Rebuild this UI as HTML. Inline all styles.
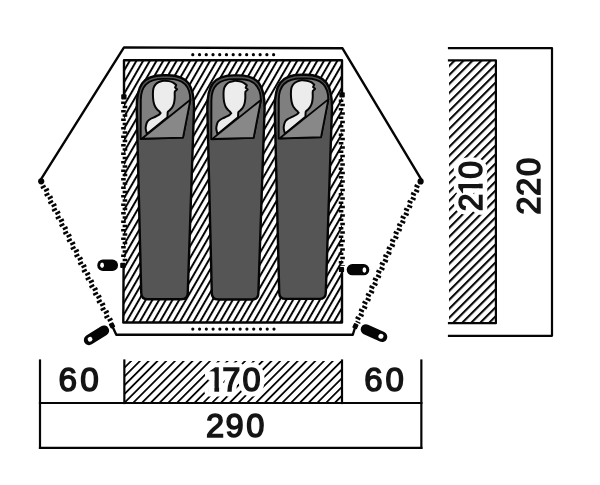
<!DOCTYPE html>
<html><head><meta charset="utf-8"><style>
html,body{margin:0;padding:0;background:#fff;width:600px;height:485px;overflow:hidden}
svg{display:block;will-change:transform}
text{font-family:"Liberation Sans",sans-serif;fill:#141414;stroke:#141414;stroke-width:1.5px;font-size:34px}
text.h{fill:#fff;stroke:#fff;stroke-width:10.8px;stroke-linejoin:round}
</style></head><body>
<svg width="600" height="485" viewBox="0 0 600 485">
<defs>
<pattern id="h60" patternUnits="userSpaceOnUse" x="2.55" y="0" width="5.8" height="20" patternTransform="rotate(30)">
<rect x="0" y="0" width="2.0" height="20" fill="#050505"/>
</pattern>
<pattern id="h45" patternUnits="userSpaceOnUse" x="0.7" y="0" width="6.36" height="20" patternTransform="rotate(45)">
<rect x="0" y="0" width="2.1" height="20" fill="#050505"/>
</pattern>
<pattern id="h45b" patternUnits="userSpaceOnUse" x="-0.1" y="0" width="6.2" height="20" patternTransform="rotate(45)">
<rect x="0" y="0" width="1.8" height="20" fill="#050505"/>
</pattern>
</defs>
<rect width="600" height="485" fill="#fff"/>
<rect x="124" y="60.3" width="218" height="262.2" fill="url(#h60)"/>
<g fill="none" stroke="#050505" stroke-width="2.4" stroke-linejoin="round" stroke-linecap="round">
<polyline points="40.6,179.8 124,47.4 342.5,48.3 421.8,180.3"/>
<polyline points="112,325.5 116.3,334.75 352.8,334.75 355.5,326"/>
<polyline points="124,97 124,60.3 342,60.3 342,95"/>
<polyline points="123.6,265 123.3,322.5 342,322.5 342,269.5"/>
</g>
<g fill="none">
<line x1="123.45" y1="101.60" x2="123.45" y2="262.00" stroke="#050505" stroke-width="4.60" stroke-dasharray="2.50 6.00" stroke-dashoffset="0.00"/>
<line x1="124.95" y1="101.60" x2="124.95" y2="262.00" stroke="#050505" stroke-width="4.60" stroke-dasharray="2.50 6.00" stroke-dashoffset="-4.25"/>
<line x1="341.05" y1="99.60" x2="341.05" y2="266.00" stroke="#050505" stroke-width="4.60" stroke-dasharray="2.50 6.00" stroke-dashoffset="0.00"/>
<line x1="342.55" y1="99.60" x2="342.55" y2="266.00" stroke="#050505" stroke-width="4.60" stroke-dasharray="2.50 6.00" stroke-dashoffset="-4.25"/>
<line x1="42.68" y1="185.75" x2="109.58" y2="322.35" stroke="#050505" stroke-width="5.20" stroke-dasharray="2.50 6.00" stroke-dashoffset="0.00"/>
<line x1="44.12" y1="185.05" x2="111.02" y2="321.65" stroke="#050505" stroke-width="5.20" stroke-dasharray="2.50 6.00" stroke-dashoffset="-4.25"/>
<line x1="417.47" y1="185.17" x2="356.27" y2="322.17" stroke="#050505" stroke-width="5.20" stroke-dasharray="2.50 6.00" stroke-dashoffset="0.00"/>
<line x1="418.93" y1="185.83" x2="357.73" y2="322.83" stroke="#050505" stroke-width="5.20" stroke-dasharray="2.50 6.00" stroke-dashoffset="-4.25"/>
</g>
<g fill="#050505">
<circle cx="41.2" cy="181.3" r="3.1"/>
<circle cx="420.6" cy="181.4" r="3.1"/>
<rect x="121.2" y="94.2" width="5.4" height="5.2" rx="0.9"/>
<rect x="339.3" y="92.2" width="5.5" height="5.2" rx="0.9"/>
<rect x="120.2" y="262.8" width="5.4" height="5.1" rx="0.9"/>
<rect x="338.9" y="267.1" width="5.2" height="5" rx="0.9"/>
<rect x="109.5" y="322.8" width="5" height="5.2" rx="0.8" transform="rotate(-26 112 325.4)"/>
<rect x="353" y="323.5" width="5" height="5.2" rx="0.8" transform="rotate(24 355.5 326)"/>
<circle cx="192.80" cy="54.70" r="1.60"/><circle cx="199.53" cy="54.70" r="1.60"/><circle cx="206.27" cy="54.70" r="1.60"/><circle cx="213.00" cy="54.70" r="1.60"/><circle cx="219.73" cy="54.70" r="1.60"/><circle cx="226.47" cy="54.70" r="1.60"/><circle cx="233.20" cy="54.70" r="1.60"/><circle cx="239.93" cy="54.70" r="1.60"/><circle cx="246.67" cy="54.70" r="1.60"/><circle cx="253.40" cy="54.70" r="1.60"/><circle cx="260.13" cy="54.70" r="1.60"/><circle cx="266.87" cy="54.70" r="1.60"/><circle cx="273.60" cy="54.70" r="1.60"/><circle cx="192.80" cy="329.10" r="1.60"/><circle cx="199.57" cy="329.10" r="1.60"/><circle cx="206.33" cy="329.10" r="1.60"/><circle cx="213.10" cy="329.10" r="1.60"/><circle cx="219.87" cy="329.10" r="1.60"/><circle cx="226.63" cy="329.10" r="1.60"/><circle cx="233.40" cy="329.10" r="1.60"/><circle cx="240.17" cy="329.10" r="1.60"/><circle cx="246.93" cy="329.10" r="1.60"/><circle cx="253.70" cy="329.10" r="1.60"/><circle cx="260.47" cy="329.10" r="1.60"/><circle cx="267.23" cy="329.10" r="1.60"/><circle cx="274.00" cy="329.10" r="1.60"/></g>
<rect x="97.3" y="259.5" width="20.7" height="11.5" rx="5.6" fill="#050505"/><ellipse cx="102.1" cy="265.3" rx="1.9" ry="2.7" fill="#fff"/>
<rect x="346.7" y="264" width="22.6" height="11.3" rx="5.6" fill="#050505"/><ellipse cx="364.4" cy="270" rx="1.9" ry="2.7" fill="#fff"/>
<g transform="translate(96.50,335.30) rotate(-32.00)"><rect x="-14.00" y="-5.20" width="28.00" height="10.40" rx="5.20" fill="#050505"/><circle cx="-7.60" cy="0" r="2.40" fill="#fff"/></g>
<g transform="translate(374.00,333.10) rotate(24.30)"><rect x="-14.10" y="-5.25" width="28.20" height="10.50" rx="5.25" fill="#050505"/><circle cx="7.60" cy="0" r="2.50" fill="#fff"/></g>
<g transform="translate(0.0,0.0)">
<path d="M141.2,292.8 L136.7,108 C136.7,86 142.5,75.2 163,75.2 L167.7,75.2 C188.2,75.2 194,86 194,108 L187.8,292.8 Q187.8,299.3 181.3,299.3 L147.7,299.3 Q141.2,299.3 141.2,292.8 Z" fill="#555" stroke="#050505" stroke-width="2.4"/>
<path d="M140.7,139 L140.8,100 C140.8,86 148.6,78.9 163,78.9 L168.6,78.9 C182.6,78.9 190.3,86 190.3,100 L183,137.6 Z" fill="#7f7f7f" stroke="#050505" stroke-width="1.9" stroke-linejoin="round"/>
<path d="M146.91,134.09 C146.71,133.20 145.83,130.27 145.70,128.76 C145.57,127.25 145.86,126.18 146.12,125.03 C146.37,123.88 146.64,122.79 147.23,121.87 C147.82,120.95 148.52,120.30 149.66,119.53 C150.79,118.77 152.59,118.02 154.04,117.29 C155.49,116.55 157.28,115.82 158.37,115.13 C159.45,114.44 160.22,113.51 160.54,113.15 C160.86,112.78 160.46,113.20 160.27,112.94 C160.08,112.67 159.88,112.06 159.40,111.53 C158.92,110.99 158.12,110.56 157.40,109.73 C156.68,108.90 155.71,107.82 155.08,106.56 C154.45,105.30 153.97,103.76 153.62,102.17 C153.27,100.58 153.10,98.83 153.00,97.05 C152.90,95.26 152.88,93.06 153.00,91.44 C153.13,89.82 153.27,88.54 153.76,87.31 C154.24,86.08 155.07,84.94 155.92,84.05 C156.78,83.16 157.62,82.53 158.88,81.97 C160.13,81.41 161.75,80.85 163.43,80.70 C165.11,80.56 167.33,80.80 168.95,81.11 C170.57,81.43 171.94,81.93 173.16,82.59 C174.38,83.24 175.74,84.63 176.26,85.04 L175.08,87.44 L177.10,89.22 L174.88,91.43 C174.85,91.70 174.73,91.93 174.70,93.03 C174.67,94.14 174.82,96.36 174.70,98.06 C174.58,99.75 174.38,101.68 173.97,103.20 C173.57,104.73 172.98,106.06 172.28,107.21 C171.58,108.37 170.51,109.39 169.78,110.15 C169.04,110.92 168.24,111.25 167.88,111.82 C167.52,112.38 167.67,112.65 167.60,113.55 C167.53,114.44 167.48,116.57 167.46,117.17 Z" fill="#ececec" stroke="#050505" stroke-width="2.0" stroke-linejoin="round"/>
<path d="M141.7,138.7 L190.3,99.8 L183,137.6 Z" fill="#888" stroke="#050505" stroke-width="1.8" stroke-linejoin="round"/>
</g>
<g transform="translate(70.6,0.2)">
<path d="M141.2,292.8 L136.7,108 C136.7,86 142.5,75.2 163,75.2 L167.7,75.2 C188.2,75.2 194,86 194,108 L187.8,292.8 Q187.8,299.3 181.3,299.3 L147.7,299.3 Q141.2,299.3 141.2,292.8 Z" fill="#555" stroke="#050505" stroke-width="2.4"/>
<path d="M140.7,139 L140.8,100 C140.8,86 148.6,78.9 163,78.9 L168.6,78.9 C182.6,78.9 190.3,86 190.3,100 L183,137.6 Z" fill="#7f7f7f" stroke="#050505" stroke-width="1.9" stroke-linejoin="round"/>
<path d="M146.91,134.09 C146.71,133.20 145.83,130.27 145.70,128.76 C145.57,127.25 145.86,126.18 146.12,125.03 C146.37,123.88 146.64,122.79 147.23,121.87 C147.82,120.95 148.52,120.30 149.66,119.53 C150.79,118.77 152.59,118.02 154.04,117.29 C155.49,116.55 157.28,115.82 158.37,115.13 C159.45,114.44 160.22,113.51 160.54,113.15 C160.86,112.78 160.46,113.20 160.27,112.94 C160.08,112.67 159.88,112.06 159.40,111.53 C158.92,110.99 158.12,110.56 157.40,109.73 C156.68,108.90 155.71,107.82 155.08,106.56 C154.45,105.30 153.97,103.76 153.62,102.17 C153.27,100.58 153.10,98.83 153.00,97.05 C152.90,95.26 152.88,93.06 153.00,91.44 C153.13,89.82 153.27,88.54 153.76,87.31 C154.24,86.08 155.07,84.94 155.92,84.05 C156.78,83.16 157.62,82.53 158.88,81.97 C160.13,81.41 161.75,80.85 163.43,80.70 C165.11,80.56 167.33,80.80 168.95,81.11 C170.57,81.43 171.94,81.93 173.16,82.59 C174.38,83.24 175.74,84.63 176.26,85.04 L175.08,87.44 L177.10,89.22 L174.88,91.43 C174.85,91.70 174.73,91.93 174.70,93.03 C174.67,94.14 174.82,96.36 174.70,98.06 C174.58,99.75 174.38,101.68 173.97,103.20 C173.57,104.73 172.98,106.06 172.28,107.21 C171.58,108.37 170.51,109.39 169.78,110.15 C169.04,110.92 168.24,111.25 167.88,111.82 C167.52,112.38 167.67,112.65 167.60,113.55 C167.53,114.44 167.48,116.57 167.46,117.17 Z" fill="#ececec" stroke="#050505" stroke-width="2.0" stroke-linejoin="round"/>
<path d="M141.7,138.7 L190.3,99.8 L183,137.6 Z" fill="#888" stroke="#050505" stroke-width="1.8" stroke-linejoin="round"/>
</g>
<g transform="translate(138.0,-0.4)">
<path d="M141.2,292.8 L136.7,108 C136.7,86 142.5,75.2 163,75.2 L167.7,75.2 C188.2,75.2 194,86 194,108 L187.8,292.8 Q187.8,299.3 181.3,299.3 L147.7,299.3 Q141.2,299.3 141.2,292.8 Z" fill="#555" stroke="#050505" stroke-width="2.4"/>
<path d="M140.7,139 L140.8,100 C140.8,86 148.6,78.9 163,78.9 L168.6,78.9 C182.6,78.9 190.3,86 190.3,100 L183,137.6 Z" fill="#7f7f7f" stroke="#050505" stroke-width="1.9" stroke-linejoin="round"/>
<path d="M146.91,134.09 C146.71,133.20 145.83,130.27 145.70,128.76 C145.57,127.25 145.86,126.18 146.12,125.03 C146.37,123.88 146.64,122.79 147.23,121.87 C147.82,120.95 148.52,120.30 149.66,119.53 C150.79,118.77 152.59,118.02 154.04,117.29 C155.49,116.55 157.28,115.82 158.37,115.13 C159.45,114.44 160.22,113.51 160.54,113.15 C160.86,112.78 160.46,113.20 160.27,112.94 C160.08,112.67 159.88,112.06 159.40,111.53 C158.92,110.99 158.12,110.56 157.40,109.73 C156.68,108.90 155.71,107.82 155.08,106.56 C154.45,105.30 153.97,103.76 153.62,102.17 C153.27,100.58 153.10,98.83 153.00,97.05 C152.90,95.26 152.88,93.06 153.00,91.44 C153.13,89.82 153.27,88.54 153.76,87.31 C154.24,86.08 155.07,84.94 155.92,84.05 C156.78,83.16 157.62,82.53 158.88,81.97 C160.13,81.41 161.75,80.85 163.43,80.70 C165.11,80.56 167.33,80.80 168.95,81.11 C170.57,81.43 171.94,81.93 173.16,82.59 C174.38,83.24 175.74,84.63 176.26,85.04 L175.08,87.44 L177.10,89.22 L174.88,91.43 C174.85,91.70 174.73,91.93 174.70,93.03 C174.67,94.14 174.82,96.36 174.70,98.06 C174.58,99.75 174.38,101.68 173.97,103.20 C173.57,104.73 172.98,106.06 172.28,107.21 C171.58,108.37 170.51,109.39 169.78,110.15 C169.04,110.92 168.24,111.25 167.88,111.82 C167.52,112.38 167.67,112.65 167.60,113.55 C167.53,114.44 167.48,116.57 167.46,117.17 Z" fill="#ececec" stroke="#050505" stroke-width="2.0" stroke-linejoin="round"/>
<path d="M141.7,138.7 L190.3,99.8 L183,137.6 Z" fill="#888" stroke="#050505" stroke-width="1.8" stroke-linejoin="round"/>
</g>
<rect x="449" y="60.3" width="46.8" height="263" fill="url(#h45)"/>
<g fill="none" stroke="#050505" stroke-width="2.2" stroke-linejoin="round" stroke-linecap="square">
<polyline points="449,60.35 495.9,60.35 495.9,323.2 449,323.2"/>
<polyline points="449,48.05 552,48.05 552,335.85 449,335.85"/>
</g>
<rect x="124" y="361" width="218" height="42" fill="url(#h45b)"/>
<g fill="none" stroke="#050505" stroke-width="2.2" stroke-linejoin="round" stroke-linecap="square">
<line x1="40" y1="360.5" x2="40" y2="447.85"/>
<line x1="421.35" y1="360.5" x2="421.35" y2="447.85"/>
<line x1="124.35" y1="360.5" x2="124.35" y2="403"/>
<line x1="342" y1="360.5" x2="342" y2="403"/>
<line x1="40" y1="403" x2="421.35" y2="403"/>
<line x1="40" y1="447.85" x2="421.35" y2="447.85"/>
</g>
<text transform="matrix(0.9791,0,0,0.9766,0,390.83)"><tspan x="59.75">6</tspan><tspan x="82.06">0</tspan></text>

<text transform="matrix(0.9704,0,0,0.9766,0,390.83)"><tspan x="375.36">6</tspan><tspan x="397.21">0</tspan></text>

<text transform="matrix(0.9591,0,0,1.0000,0,391.00)" class="h" aria-hidden="true"><tspan x="215.95">1</tspan><tspan x="231.72">7</tspan><tspan x="252.97">0</tspan></text>
<text transform="matrix(0.9591,0,0,1.0000,0,391.00)"><tspan x="215.95">1</tspan><tspan x="231.72">7</tspan><tspan x="252.97">0</tspan></text>
<g transform="matrix(0.9591,0,0,1.0000,0,391.00)" fill="#fff"><rect x="217.10" y="-4.30" width="6.40" height="6.00"/><rect x="228.45" y="-4.30" width="6.30" height="6.00"/><rect x="217.45" y="-19.60" width="5.90" height="9.00"/></g>

<text transform="matrix(0.9594,0,0,0.9881,0,437.31)"><tspan x="214.68">2</tspan><tspan x="234.96">9</tspan><tspan x="256.80">0</tspan></text>

<text transform="matrix(0,-0.9387,0.9684,0,482.03,0)" class="h" aria-hidden="true"><tspan x="-224.97">2</tspan><tspan x="-208.20">1</tspan><tspan x="-190.50">0</tspan></text>
<text transform="matrix(0,-0.9387,0.9684,0,482.03,0)"><tspan x="-224.97">2</tspan><tspan x="-208.20">1</tspan><tspan x="-190.50">0</tspan></text>
<g transform="matrix(0,-0.9387,0.9684,0,482.03,0)" fill="#fff"><rect x="-207.05" y="-4.30" width="6.40" height="6.00"/><rect x="-195.70" y="-4.30" width="6.30" height="6.00"/><rect x="-206.70" y="-19.60" width="5.90" height="9.00"/></g>

<text transform="matrix(0,-0.9661,0.9684,0,540.23,0)"><tspan x="-222.21">2</tspan><tspan x="-202.80">2</tspan><tspan x="-182.26">0</tspan></text>

</svg>
</body></html>
